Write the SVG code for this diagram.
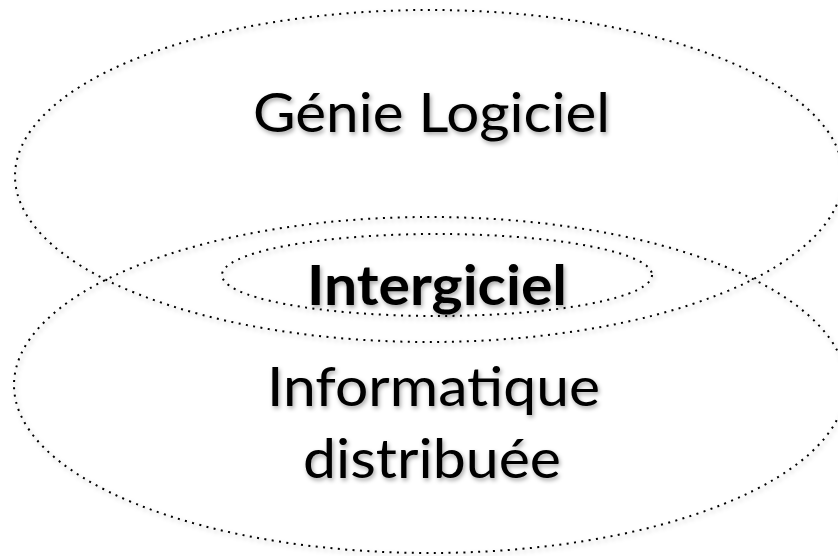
<svg xmlns="http://www.w3.org/2000/svg" width="838" height="556" viewBox="0 0 838 556">
<defs>
<filter id="sh" x="-10%" y="-10%" width="120%" height="130%">
<feDropShadow dx="1.5" dy="2.5" stdDeviation="2" flood-color="#000" flood-opacity="0.35"/>
</filter>
<style>
.ring{fill:none;stroke:#000;stroke-width:2;stroke-dasharray:2 5.4;filter:url(#sh)}
.lbl{font-family:Lato,"Open Sans","Noto Sans",sans-serif;font-size:55px;fill:#000;text-anchor:middle;filter:url(#sh)}
.bold{font-weight:bold}
</style>
</defs>
<rect width="838" height="556" fill="#fff"/>
<g id="genie-logiciel">
<ellipse class="ring" cx="429" cy="176" rx="414" ry="166"/>
<text class="lbl" x="431.5" y="132" textLength="357" lengthAdjust="spacingAndGlyphs">Génie Logiciel</text>
</g>
<g id="informatique-distribuee">
<ellipse class="ring" cx="430" cy="385" rx="416" ry="168"/>
<text class="lbl" x="433.5" y="406" textLength="333" lengthAdjust="spacingAndGlyphs">Informatique</text>
<text class="lbl" x="432" y="478" textLength="258" lengthAdjust="spacingAndGlyphs">distribuée</text>
</g>
<g id="intergiciel">
<ellipse class="ring" cx="437" cy="275" rx="215" ry="41"/>
<text class="lbl bold" x="437" y="305" textLength="260" lengthAdjust="spacingAndGlyphs">Intergiciel</text>
</g>
<g id="connectors"/>
</svg>
